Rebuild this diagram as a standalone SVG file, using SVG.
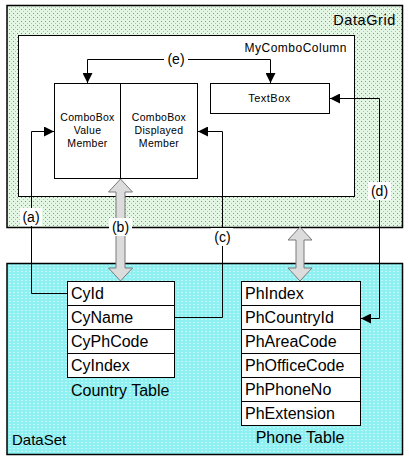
<svg xmlns="http://www.w3.org/2000/svg" width="409" height="461" viewBox="0 0 409 461">
<defs>
<pattern id="pg" width="4" height="4" patternUnits="userSpaceOnUse">
<rect width="4" height="4" fill="#e4f6e4"/>
<rect x="1" y="1" width="1" height="1" fill="#5cae5c"/>
<rect x="3" y="3" width="1" height="1" fill="#9ccf9c"/>
</pattern>
<pattern id="pc" width="4" height="3" patternUnits="userSpaceOnUse">
<rect width="4" height="3" fill="#8ff0f2"/>
<rect x="1" y="1" width="2" height="1" fill="#c4f8f8"/>
</pattern>
<marker id="ah" viewBox="0 0 10 10" refX="10" refY="5" markerWidth="10" markerHeight="10" markerUnits="userSpaceOnUse" orient="auto-start-reverse">
<path d="M0,0 L10,5 L0,10 z" fill="#000"/>
</marker>
<style>
text{font-family:"Liberation Sans",Arial,sans-serif;fill:#000}
.box{fill:#fff;stroke:#000;stroke-width:1}
.conn{fill:none;stroke:#000;stroke-width:1}
.big{fill:#dcdcdc;stroke:#7a7a7a;stroke-width:1}
.lbl{font-size:14px;text-anchor:middle}
.lbg{fill:#fff}
.fld{font-size:16px}
.sm{font-size:10.5px;text-anchor:middle;letter-spacing:0.3px}
</style>
</defs>

<g id="DataGrid">
<rect x="7" y="5.5" width="395.5" height="222" fill="url(#pg)" stroke="#000" stroke-width="1.5"/>
<text x="396" y="25" font-size="14.5" text-anchor="end" letter-spacing="0.6">DataGrid</text>
</g>

<g id="DataSet">
<rect x="7" y="263.5" width="395.5" height="191" fill="url(#pc)" stroke="#000" stroke-width="1.5"/>
<text x="12" y="445" font-size="15">DataSet</text>
</g>

<g id="MyComboColumn">
<rect class="box" x="18.5" y="35.5" width="336" height="161"/>
<text x="347" y="52" font-size="12" text-anchor="end" letter-spacing="0.5">MyComboColumn</text>
</g>

<g id="ComboBoxValueMember">
<rect class="box" x="54.5" y="83.5" width="66" height="95"/>
<text class="sm" x="87.5" y="121">ComboBox</text>
<text class="sm" x="87.5" y="134">Value</text>
<text class="sm" x="87.5" y="147">Member</text>
</g>

<g id="ComboBoxDisplayedMember">
<rect class="box" x="120.5" y="83.5" width="77" height="95"/>
<text class="sm" x="159" y="121">ComboBox</text>
<text class="sm" x="159" y="134">Displayed</text>
<text class="sm" x="159" y="147">Member</text>
</g>

<g id="TextBox">
<rect class="box" x="210.5" y="83.5" width="119" height="30"/>
<text x="269.5" y="102" font-size="11" text-anchor="middle" letter-spacing="0.5">TextBox</text>
</g>

<g id="CountryTable">
<rect class="box" x="67.5" y="281.5" width="107" height="24"/>
<rect class="box" x="67.5" y="305.5" width="107" height="24"/>
<rect class="box" x="67.5" y="329.5" width="107" height="24"/>
<rect class="box" x="67.5" y="353.5" width="107" height="24"/>
<text class="fld" x="71" y="299">CyId</text>
<text class="fld" x="71" y="323">CyName</text>
<text class="fld" x="71" y="347">CyPhCode</text>
<text class="fld" x="71" y="371">CyIndex</text>
<text class="fld" x="71" y="396">Country Table</text>
</g>

<g id="PhoneTable">
<rect class="box" x="241.5" y="281.5" width="119" height="24"/>
<rect class="box" x="241.5" y="305.5" width="119" height="24"/>
<rect class="box" x="241.5" y="329.5" width="119" height="24"/>
<rect class="box" x="241.5" y="353.5" width="119" height="24"/>
<rect class="box" x="241.5" y="377.5" width="119" height="24"/>
<rect class="box" x="241.5" y="401.5" width="119" height="24"/>
<text class="fld" x="245" y="299">PhIndex</text>
<text class="fld" x="245" y="323">PhCountryId</text>
<text class="fld" x="245" y="347">PhAreaCode</text>
<text class="fld" x="245" y="371">PhOfficeCode</text>
<text class="fld" x="245" y="395">PhPhoneNo</text>
<text class="fld" x="245" y="419">PhExtension</text>
<text class="fld" x="300" y="443" text-anchor="middle">Phone Table</text>
</g>

<g id="connectors">
<polygon class="big" points="120.5,179 132.5,192 125,192 125,268 132.5,268 120.5,281 108.5,268 116,268 116,192 108.5,192"/>
<polygon class="big" points="300,227 312,240 304,240 304,268 312,268 300,281 288,268 296,268 296,240 288,240"/>
<polyline class="conn" points="67,293.5 31.5,293.5 31.5,131.5 54,131.5" marker-end="url(#ah)"/>
<polyline class="conn" points="174,317.5 222.5,317.5 222.5,131.5 198,131.5" marker-end="url(#ah)"/>
<polyline class="conn" points="330,98.5 379.5,98.5 379.5,318.5 361,318.5" marker-start="url(#ah)" marker-end="url(#ah)"/>
<polyline class="conn" points="87.5,83 87.5,59.5 270.5,59.5 270.5,83" marker-start="url(#ah)" marker-end="url(#ah)"/>
<rect class="lbg" x="20" y="208" width="22" height="18"/>
<text class="lbl" x="31" y="222">(a)</text>
<rect class="lbg" x="109" y="218" width="23" height="18"/>
<text class="lbl" x="120.5" y="232">(b)</text>
<rect class="lbg" x="211" y="228" width="22" height="18"/>
<text class="lbl" x="222.5" y="242">(c)</text>
<rect class="lbg" x="368" y="182" width="23" height="18"/>
<text class="lbl" x="379.5" y="196">(d)</text>
<rect class="lbg" x="164" y="50" width="24" height="18"/>
<text class="lbl" x="176" y="64">(e)</text>
</g>
</svg>
